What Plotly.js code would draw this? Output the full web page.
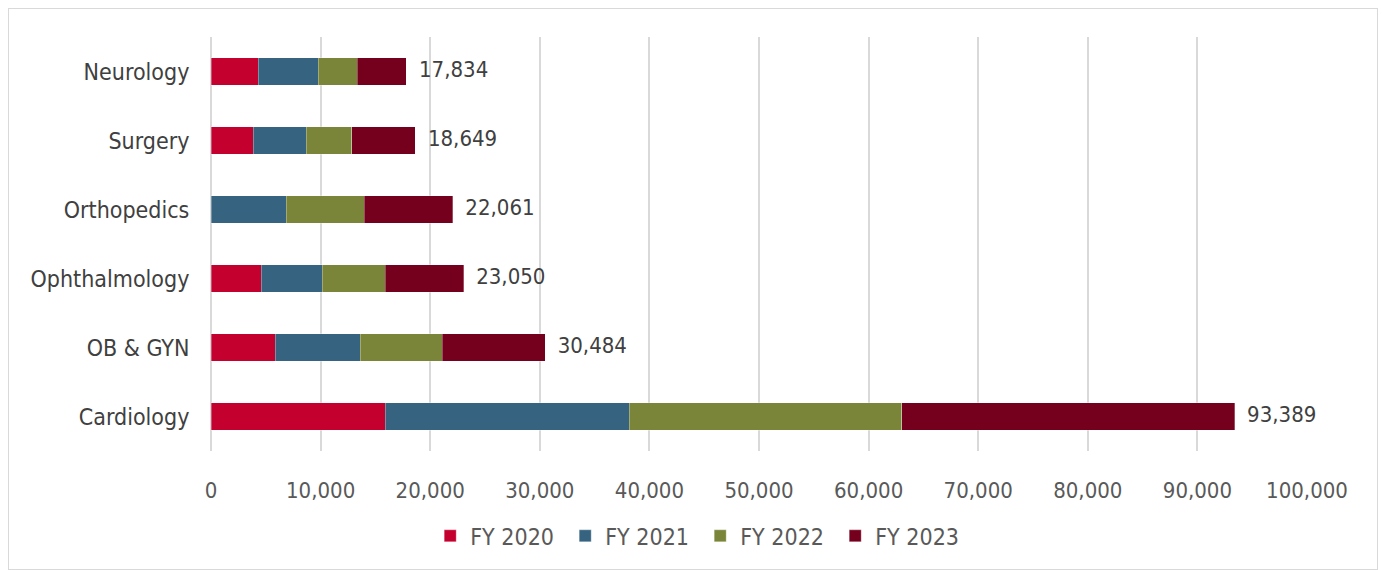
<!DOCTYPE html>
<html>
<head>
<meta charset="utf-8">
<script src="https://cdn.plot.ly/plotly-3.0.1.min.js"></script>
<style>
  body { margin: 0; background: #fff; }
  #frame { position: absolute; left: 8px; top: 8px; width: 1370px; height: 562px; border: 1px solid #d9d9d9; box-sizing: border-box; }
  #chart { width: 1368px; height: 560px; }
</style>
</head>
<body>
<div id="frame"><div id="chart"></div></div>
<script>
const categories = ["Neurology", "Surgery", "Orthopedics", "Ophthalmology", "OB & GYN", "Cardiology"];
const fy2020 = [4290, 3860, 0, 4590, 5867, 15903];
const fy2021 = [5500, 4837, 6873, 5565, 7756, 22263];
const fy2022 = [3560, 4138, 7087, 5721, 7481, 24854];
const fy2023 = [4484, 5814, 8101, 7174, 9380, 30369];
const totals = [17834, 18649, 22061, 23050, 30484, 93389];
const seriesNames = ["FY 2020", "FY 2021", "FY 2022", "FY 2023"];
const colors = ["#C4002F", "#36637F", "#7A853A", "#75001E"];

const fontFam = "'DejaVu Sans Condensed', 'DejaVu Sans', sans-serif";
const seriesData = [fy2020, fy2021, fy2022, fy2023];
const traces = seriesData.map((vals, i) => ({
  type: "bar",
  orientation: "h",
  y: categories,
  x: vals,
  name: seriesNames[i],
  marker: { color: colors[i], line: { color: "rgba(255,255,255,0.6)", width: 0.5 } },
  hoverinfo: "x+name"
}));
traces.push({
  type: "scatter",
  mode: "text",
  y: categories,
  x: totals,
  text: totals.map(v => "  " + v.toLocaleString("en-US")),
  textposition: "middle right",
  textfont: { family: fontFam, size: 22, color: "#404040" },
  showlegend: false,
  hoverinfo: "skip",
  cliponaxis: false
});

const layout = {
  width: 1368,
  height: 560,
  margin: { l: 202, r: 70, t: 28, b: 114 },
  paper_bgcolor: "#ffffff",
  plot_bgcolor: "#ffffff",
  barmode: "stack",
  bargap: 0.6,
  font: { family: fontFam, size: 20, color: "#595959" },
  xaxis: {
    range: [0, 100000],
    dtick: 10000,
    tickformat: ",d",
    showgrid: true,
    gridcolor: "#d9d9d9",
    gridwidth: 2,
    zeroline: true,
    zerolinecolor: "#d9d9d9",
    zerolinewidth: 2,
    showline: false,
    ticks: "outside",
    ticklen: 20,
    tickcolor: "rgba(0,0,0,0)",
    tickfont: { family: fontFam, size: 22, color: "#595959" },
    fixedrange: true
  },
  yaxis: {
    autorange: "reversed",
    type: "category",
    showgrid: false,
    zeroline: false,
    showline: false,
    ticks: "outside",
    ticklen: 16,
    tickcolor: "rgba(0,0,0,0)",
    tickfont: { family: fontFam, size: 23, color: "#404040" },
    fixedrange: true
  },
  legend: {
    orientation: "h",
    x: 0.2,
    xanchor: "left",
    y: -0.205,
    yanchor: "middle",
    font: { family: fontFam, size: 23, color: "#595959" },
    traceorder: "normal",
    itemwidth: 30,
    entrywidth: 90,
    entrywidthmode: "pixels"
  },
  showlegend: true
};

Plotly.newPlot("chart", traces, layout, { displayModeBar: false, staticPlot: true });
</script>
</body>
</html>
